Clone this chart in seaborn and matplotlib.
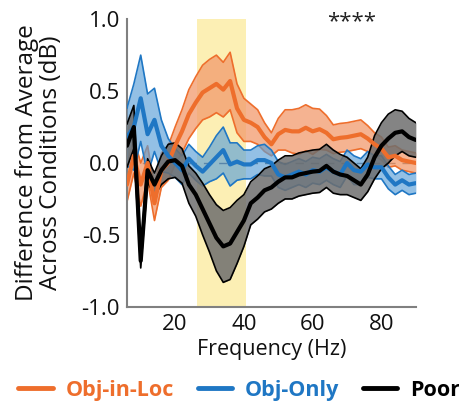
import numpy as np
import pandas as pd
import matplotlib
matplotlib.use("Agg")
import matplotlib.pyplot as plt
import seaborn as sns
from matplotlib.lines import Line2D

freq = [6, 8, 10, 12, 14, 16, 18, 20, 22, 24, 26, 28, 30, 32, 34, 36, 38, 40, 42, 44, 46, 48,
        50, 52, 54, 56, 58, 60, 62, 64, 66, 68, 70, 72, 74, 76, 78, 80, 82, 84, 86, 88, 90]

obj_in_loc = [-0.15, 0.05, -0.15, 0.0, -0.28, -0.05, 0.0, 0.12, 0.22, 0.34, 0.42, 0.49, 0.52, 0.55,
              0.51, 0.57, 0.38, 0.30, 0.28, 0.25, 0.18, 0.13, 0.20, 0.23, 0.22, 0.22, 0.245, 0.22,
              0.235, 0.21, 0.165, 0.175, 0.18, 0.19, 0.20, 0.17, 0.13, 0.10, 0.04, 0.05, 0.02, 0.01, 0.0]
obj_in_loc_err = [0.12, 0.12, 0.15, 0.12, 0.12, 0.12, 0.12, 0.13, 0.15, 0.17, 0.18, 0.19, 0.2, 0.2,
                  0.19, 0.2, 0.17, 0.15, 0.13, 0.12, 0.1, 0.08, 0.11, 0.14, 0.15, 0.16, 0.16, 0.16,
                  0.14, 0.12, 0.1, 0.1, 0.1, 0.1, 0.1, 0.09, 0.08, 0.08, 0.07, 0.07, 0.07, 0.07, 0.07]

obj_only = [0.18, 0.25, 0.45, 0.20, 0.30, 0.12, 0.05, 0.0, -0.05, 0.03, -0.02, -0.06, -0.01, 0.04,
            0.09, -0.01, 0.01, -0.01, -0.01, 0.02, 0.02, 0.0, -0.08, -0.10, -0.08, -0.06, -0.08,
            -0.05, -0.06, -0.03, -0.06, -0.08, 0.0, -0.05, -0.06, -0.01, -0.03, -0.03, -0.10,
            -0.15, -0.12, -0.15, -0.14]
obj_only_err = [0.2, 0.3, 0.3, 0.28, 0.22, 0.18, 0.12, 0.1, 0.1, 0.1, 0.1, 0.1, 0.12, 0.15,
                0.16, 0.15, 0.13, 0.1, 0.1, 0.1, 0.11, 0.09, 0.09, 0.09, 0.09, 0.09, 0.09,
                0.09, 0.09, 0.09, 0.09, 0.09, 0.09, 0.1, 0.09, 0.09, 0.08, 0.08, 0.08,
                0.07, 0.07, 0.07, 0.07]

poor = [0.12, 0.25, -0.68, -0.05, -0.15, -0.05, 0.01, 0.02, -0.02, -0.15, -0.22, -0.32, -0.42,
        -0.52, -0.58, -0.56, -0.48, -0.40, -0.28, -0.24, -0.19, -0.17, -0.13, -0.10, -0.10,
        -0.08, -0.07, -0.06, -0.055, -0.02, -0.06, -0.08, -0.09, -0.12, -0.15, -0.08, 0.04,
        0.12, 0.17, 0.21, 0.22, 0.18, 0.16]
poor_err = [0.15, 0.15, 0.05, 0.08, 0.08, 0.1, 0.12, 0.12, 0.12, 0.13, 0.15, 0.18, 0.2, 0.23,
            0.25, 0.25, 0.22, 0.18, 0.15, 0.15, 0.15, 0.15, 0.15, 0.15, 0.15, 0.15, 0.15, 0.15,
            0.15, 0.15, 0.15, 0.14, 0.13, 0.12, 0.11, 0.12, 0.15, 0.16, 0.17, 0.16, 0.14, 0.13, 0.12]

labels = ["Obj-in-Loc", "Obj-Only", "Poor"]
highlight = (26.5, 40.5)
sig_text = "****"

colors = {"Obj-in-Loc": "#EE6E2C", "Obj-Only": "#1F77C4", "Poor": "#000000"}
fills = {"Obj-in-Loc": ("#F29A6C", 0.75), "Obj-Only": ("#5A9FD8", 0.65), "Poor": ("#6E6E6E", 0.85)}

rows = []
for lab, m, e in zip(labels, [obj_in_loc, obj_only, poor], [obj_in_loc_err, obj_only_err, poor_err]):
    for f, mv, ev in zip(freq, m, e):
        rows.append({"freq": f, "val": mv, "err": ev, "cond": lab})
df = pd.DataFrame(rows)

sns.set_style("white")
plt.rcParams["font.family"] = ["Open Sans", "DejaVu Sans"]

fig = plt.figure(figsize=(4.6, 4.08), dpi=100)
ax = fig.add_axes([0.276, 0.248, 0.628, 0.705])

ax.axvspan(highlight[0], highlight[1], color="#FCEFB4", zorder=0, lw=0)
ax.axhline(0, color="#555555", lw=1.0, ls=(0, (6, 5)), zorder=1)

for i, lab in enumerate(labels):
    sub = df[df["cond"] == lab]
    lo = sub["val"] - sub["err"]
    hi = sub["val"] + sub["err"]
    fc, a = fills[lab]
    ax.fill_between(sub["freq"], lo, hi, color=fc, alpha=a, lw=0, zorder=2 + i)
    ax.plot(sub["freq"], lo, color=colors[lab], lw=1.2, zorder=2 + i)
    ax.plot(sub["freq"], hi, color=colors[lab], lw=1.2, zorder=2 + i)

sns.lineplot(data=df, x="freq", y="val", hue="cond", palette=colors, hue_order=labels,
             lw=3, ax=ax, legend=False, zorder=5)
for ln in ax.lines[-3:]:
    ln.set_linewidth(3)

ax.set_xlim(6, 90)
ax.set_ylim(-1, 1)
ax.set_xticks([20, 40, 60, 80])
ax.set_yticks([-1.0, -0.5, 0.0, 0.5, 1.0])
ax.set_yticklabels(["-1.0", "-0.5", "0.0", "0.5", "1.0"])
ax.tick_params(axis="both", direction="in", length=4, width=1.2, color="#808080",
               labelsize=16, pad=5, labelcolor="#111111")
for s in ["top", "right"]:
    ax.spines[s].set_visible(False)
for s in ["left", "bottom"]:
    ax.spines[s].set_color("#808080")
    ax.spines[s].set_linewidth(1.5)

ax.set_xlabel("Frequency (Hz)", fontsize=15.5, labelpad=3, color="#111111")
ax.set_ylabel("Difference from Average\nAcross Conditions (dB)", fontsize=17.5, labelpad=13,
              color="#111111", linespacing=1.0)

ax.text(71.3, 0.98, sig_text, ha="center", va="center", fontsize=16, color="#222222")

handles = [Line2D([0], [0], color=colors[l], lw=3.5) for l in labels]
leg = fig.legend(handles, labels, loc="lower center", bbox_to_anchor=(0.52, -0.03), ncol=3,
                 frameon=False, handlelength=1.6, columnspacing=1.1, handletextpad=0.6,
                 prop={"weight": "bold", "size": 15.5})
for t, l in zip(leg.get_texts(), labels):
    t.set_color(colors[l])

fig.savefig("out.png", dpi=100)
